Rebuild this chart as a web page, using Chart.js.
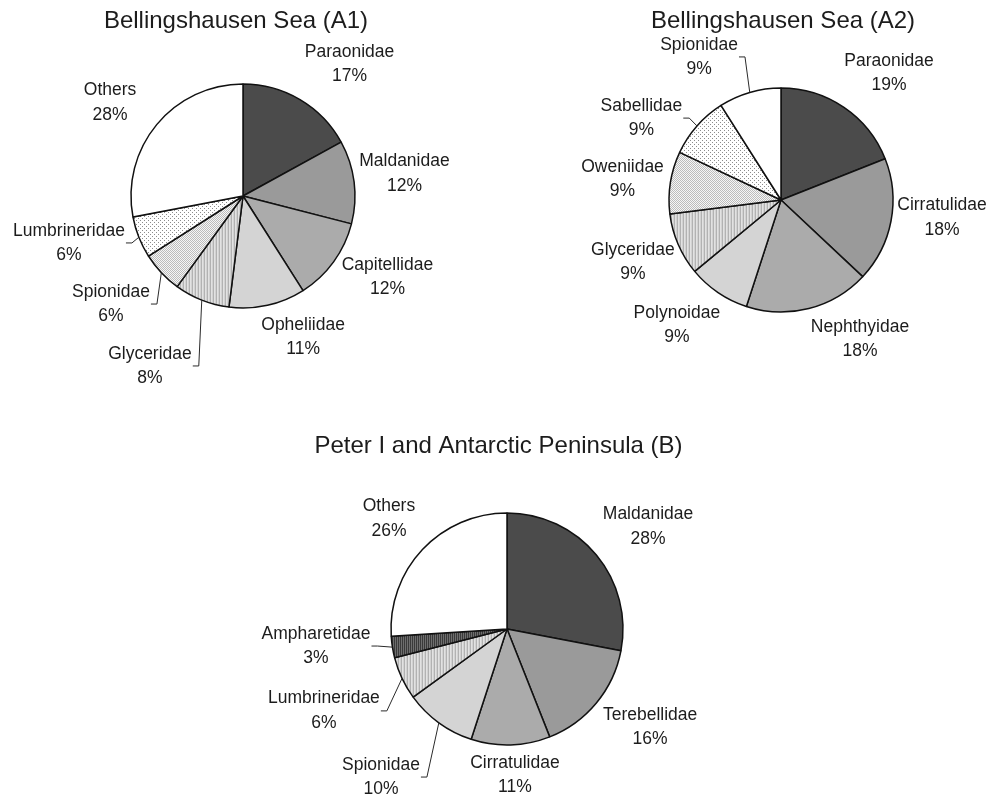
<!DOCTYPE html>
<html>
<head>
<meta charset="utf-8">
<script src="https://cdn.jsdelivr.net/npm/chart.js@4.4.1/dist/chart.umd.min.js"></script>
<style>
  html, body { margin: 0; padding: 0; background: #fff; }
  #page { position: relative; width: 1002px; height: 801px; overflow: hidden; }
  canvas { position: absolute; }
</style>
</head>
<body>
<div id="page">
  <canvas id="chart-a1" width="472" height="400" style="left:0px;top:0px;width:472px;height:400px"></canvas>
  <canvas id="chart-a2" width="434" height="400" style="left:566px;top:0px;width:434px;height:400px"></canvas>
  <canvas id="chart-b" width="501" height="401" style="left:248px;top:400px;width:501px;height:401px"></canvas>
</div>
<script>
// Bellingshausen Sea (A1)
const a1Families = ["Paraonidae", "Maldanidae", "Capitellidae", "Opheliidae", "Glyceridae", "Spionidae", "Lumbrineridae", "Others"];
const a1Percent = [17, 12, 12, 11, 8, 6, 6, 28];

// Bellingshausen Sea (A2)
const a2Families = ["Paraonidae", "Cirratulidae", "Nephthyidae", "Polynoidae", "Glyceridae", "Oweniidae", "Sabellidae", "Spionidae"];
const a2Percent = [19, 18, 18, 9, 9, 9, 9, 9];

// Peter I and Antarctic Peninsula (B)
const bFamilies = ["Maldanidae", "Terebellidae", "Cirratulidae", "Spionidae", "Lumbrineridae", "Ampharetidae", "Others"];
const bPercent = [28, 16, 11, 10, 6, 3, 26];

const FONT = '"Liberation Sans", Arial, Helvetica, sans-serif';

// small tiles for the hatched / dotted slices
function makePattern(w, h, bg, marks) {
  const c = document.createElement("canvas");
  c.width = w;
  c.height = h;
  const g = c.getContext("2d");
  g.fillStyle = bg;
  g.fillRect(0, 0, w, h);
  marks.forEach(m => {
    g.fillStyle = m[4];
    g.fillRect(m[0], m[1], m[2], m[3]);
  });
  return g.createPattern(c, "repeat");
}

const ctxTmp = document.createElement("canvas").getContext("2d");
const dark = "#4b4b4b";
const mid = "#9a9a9a";
const midLight = "#ababab";
const light = "#d4d4d4";
const stripes = makePattern(3, 4, "#e2e2e2", [[0, 0, 1, 4, "#b2b2b2"], [2, 0, 1, 4, "#d2d2d2"]]);
const denseDots = makePattern(2, 2, "#f6f6f6", [[0, 0, 1, 1, "#bcbcbc"], [1, 1, 1, 1, "#bcbcbc"]]);
const sparseDots = makePattern(4, 4, "#ffffff", [[0, 0, 1, 1, "#8c8c8c"], [2, 2, 1, 1, "#8c8c8c"]]);
const darkStripes = makePattern(2, 4, "#6e6e6e", [[0, 0, 1, 4, "#3a3a3a"]]);

const shadesA = [dark, mid, midLight, light, stripes, denseDots, sparseDots, "#ffffff"];
const shadesB = [dark, mid, midLight, light, stripes, darkStripes, "#ffffff"];

// label placement: [angle shift from slice middle (deg), distance in radii, leader line]
const placeA1 = [[8.3, 1.514], [-0.6, 1.455], [-6.7, 1.479], [-10.5, 1.368], [7.1, 1.73, true], [3.9, 1.523, true], [6.5, 1.609, true], [-4.6, 1.449]];
const placeA2 = [[6.2, 1.488], [-4.6, 1.446], [-15.2, 1.428], [5.6, 1.452], [0.7, 1.433], [-1.6, 1.427], [-11, 1.445, true], [-13.6, 1.472, true]];
const placeB = [[3.6, 1.503], [-5.2, 1.495], [-1.3, 1.26], [4.4, 1.676, true], [1.1, 1.729, true], [3.9, 1.653, true], [-0.1, 1.394]];

const pieLabels = {
  id: "pieLabels",
  afterDatasetsDraw(chart, args, opts) {
    const ctx = chart.ctx;
    const meta = chart.getDatasetMeta(0);
    const names = chart.data.labels;
    const values = chart.data.datasets[0].data;
    const gap = 24.5;
    ctx.save();
    ctx.font = "17.5px " + FONT;
    ctx.fillStyle = "#1c1c1c";
    ctx.strokeStyle = "#2a2a2a";
    ctx.lineWidth = 1;
    ctx.textAlign = "center";
    ctx.textBaseline = "middle";
    meta.data.forEach((arc, i) => {
      const p = arc.getProps(["x", "y", "startAngle", "endAngle", "outerRadius"], true);
      const midAngle = (p.startAngle + p.endAngle) / 2;
      const place = opts.place[i];
      const a = midAngle + place[0] * Math.PI / 180;
      const lx = p.x + Math.cos(a) * p.outerRadius * place[1];
      const ly = p.y + Math.sin(a) * p.outerRadius * place[1];
      ctx.fillText(names[i], lx, ly - gap / 2);
      ctx.fillText(values[i] + "%", lx, ly + gap / 2);
      if (place[2]) {
        const ex = lx + ctx.measureText(names[i]).width / 2 + 1;
        ctx.beginPath();
        ctx.moveTo(ex, ly);
        ctx.lineTo(ex + 6, ly);
        ctx.lineTo(p.x + Math.cos(midAngle) * p.outerRadius, p.y + Math.sin(midAngle) * p.outerRadius);
        ctx.stroke();
      }
    });
    ctx.font = opts.titleSize + "px " + FONT;
    ctx.textBaseline = "alphabetic";
    ctx.fillText(opts.title, chart.width / 2, opts.titleY);
    ctx.restore();
  }
};

function drawPie(canvasId, families, percent, shades, place, title, titleY, cx, cy, r) {
  const canvas = document.getElementById(canvasId);
  const W = canvas.width, H = canvas.height;
  const s = r + 4;
  return new Chart(canvas.getContext("2d"), {
    type: "pie",
    data: {
      labels: families,
      datasets: [{
        data: percent,
        backgroundColor: shades,
        borderColor: "#111111",
        borderWidth: 1.5,
        hoverBorderWidth: 1.5,
        hoverOffset: 0,
        radius: r
      }]
    },
    options: {
      responsive: false,
      devicePixelRatio: 1,
      animation: false,
      events: [],
      layout: {
        padding: { left: cx - s, right: W - cx - s, top: cy - s, bottom: H - cy - s }
      },
      plugins: {
        legend: { display: false },
        tooltip: { enabled: false },
        pieLabels: { place: place, title: title, titleY: titleY, titleSize: 24 }
      }
    },
    plugins: [pieLabels]
  });
}

drawPie("chart-a1", a1Families, a1Percent, shadesA, placeA1, "Bellingshausen Sea (A1)", 28, 243, 196, 112);
drawPie("chart-a2", a2Families, a2Percent, shadesA, placeA2, "Bellingshausen Sea (A2)", 28, 215, 200, 112);
drawPie("chart-b", bFamilies, bPercent, shadesB, placeB, "Peter I and Antarctic Peninsula (B)", 53, 259, 229, 116);
</script>
</body>
</html>
